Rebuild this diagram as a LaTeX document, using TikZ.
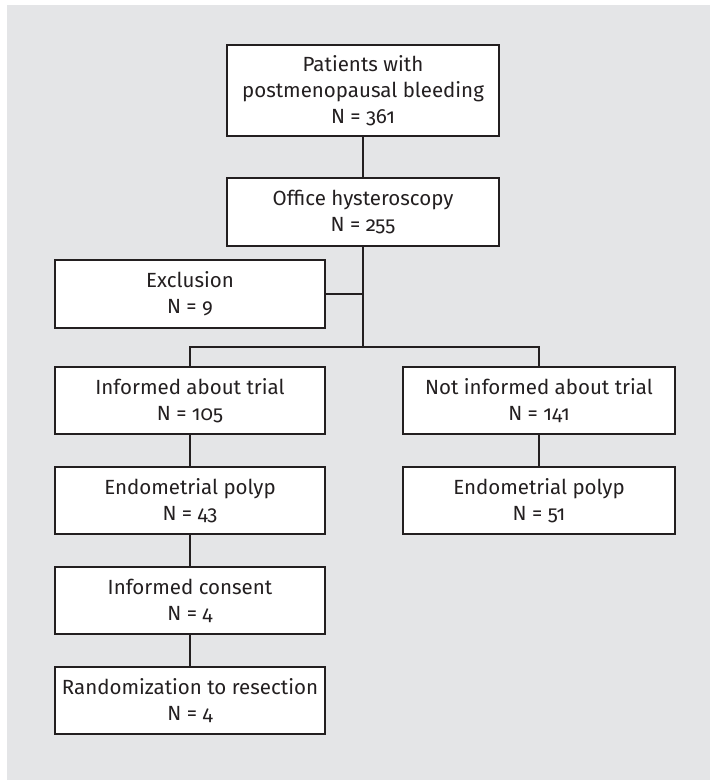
\documentclass[tikz,border=0pt]{standalone}
\usepackage{fontspec}
\setmainfont{Fira Sans}[Numbers=OldStyle]
\definecolor{bg}{HTML}{E4E5E7}
\definecolor{ln}{HTML}{231F20}
\begin{document}
\begin{tikzpicture}[x=1pt,y=-1pt,
  box/.style={draw=ln, fill=white, line width=1.4pt, align=center, inner sep=0pt,
    minimum width=270pt, minimum height=67pt,
    font=\fontsize{20.5}{26}\selectfont, text=ln},
  conn/.style={draw=ln, line width=2pt}]
\useasboundingbox (0,0) rectangle (710,780);
\fill[bg] (7,5) rectangle (710,780);
\node[box, minimum width=272pt, minimum height=91pt] (top) at (363,90.5) {Patients with\\postmenopausal bleeding\\N = 361};
\node[box, minimum width=272pt, minimum height=68pt] (office) at (363,212) {Office hysteroscopy\\N = 255};
\node[box, minimum height=68pt] (excl) at (190,294) {Exclusion\\N = 9};
\node[box] (inf) at (190,400.5) {Informed about trial\\N = 105};
\node[box, minimum width=272pt] (notinf) at (539,400.5) {Not informed about trial\\N = 141};
\node[box] (poly1) at (190,500.5) {Endometrial polyp\\N = 43};
\node[box, minimum width=272pt] (poly2) at (539,500.5) {Endometrial polyp\\N = 51};
\node[box] (consent) at (190,600.5) {Informed consent\\N = 4};
\node[box] (rand) at (190,700.5) {Randomization to resection\\N = 4};
\coordinate (bus) at (363,347);
\draw[conn] (top.south) -- (office.north);
\draw[conn] (office.south) -- (bus);
\draw[conn] (excl.east) -- (excl.east -| bus);
\draw[conn] (inf.north) -- (inf.north |- bus) -- (notinf.north |- bus) -- (notinf.north);
\draw[conn] (inf.south) -- (poly1.north);
\draw[conn] (notinf.south) -- (poly2.north);
\draw[conn] (poly1.south) -- (consent.north);
\draw[conn] (consent.south) -- (rand.north);
\end{tikzpicture}
\end{document}
